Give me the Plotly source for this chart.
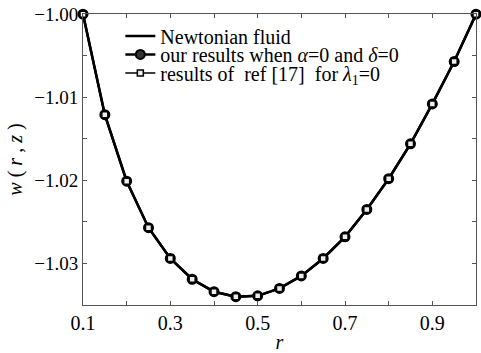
import plotly.graph_objects as go

r = [0.1, 0.15, 0.2, 0.25, 0.3, 0.35, 0.4, 0.45, 0.5, 0.55, 0.6, 0.65, 0.7, 0.75, 0.8, 0.85, 0.9, 0.95, 1.0]
w_newtonian = [-1.0000, -1.0121, -1.0201, -1.0257, -1.0294, -1.0319, -1.0334, -1.0340, -1.0339, -1.0330,
               -1.0315, -1.0294, -1.0268, -1.0235, -1.0198, -1.0156, -1.0108, -1.0057, -1.0000]
w_ours = list(w_newtonian)
w_ref17 = list(w_newtonian)

names = ["Newtonian fluid",
         "our results when <i>α</i>=0 and <i>δ</i>=0",
         "results of  ref [17]  for <i>λ</i><sub>1</sub>=0"]

font = "Times New Roman, Liberation Serif, DejaVu Serif, serif"

fig = go.Figure()
fig.add_trace(go.Scatter(x=r, y=w_newtonian, mode="lines", name=names[0], cliponaxis=False,
                         legend="legend",
                         line=dict(color="black", width=2.5)))
fig.add_trace(go.Scatter(x=r, y=w_ours, mode="lines+markers", name=names[1], cliponaxis=False,
                         legend="legend2",
                         line=dict(color="black", width=2.5),
                         marker=dict(symbol="circle", size=9, color="#333333",
                                     line=dict(color="black", width=2))))
fig.add_trace(go.Scatter(x=r, y=w_ref17, mode="lines+markers", name=names[2], cliponaxis=False,
                         legend="legend3",
                         line=dict(color="black", width=1.5),
                         marker=dict(symbol="square", size=6, color="#eeeeee",
                                     line=dict(color="black", width=1.5))))

leg_common = dict(x=0.095, xanchor="left", yanchor="middle",
                  bgcolor="rgba(0,0,0,0)", font=dict(size=20, family=font), itemwidth=30)

fig.update_layout(
    width=481, height=353,
    margin=dict(l=83, r=4, t=9, b=41),
    paper_bgcolor="white", plot_bgcolor="white",
    font=dict(family=font, size=16, color="black"),
    showlegend=True,
    legend=dict(y=0.924, **leg_common),
    legend2=dict(y=0.861, **leg_common),
    legend3=dict(y=0.797, **leg_common),
    xaxis=dict(range=[0.1, 1.0], tickvals=[0.1, 0.3, 0.5, 0.7, 0.9],
               ticktext=["0.1", "0.3", "0.5", "0.7", "0.9"],
               ticks="inside", ticklen=4, tickcolor="#555", showgrid=False, zeroline=False,
               showline=True, linecolor="#555", linewidth=1, mirror="ticks",
               minor=dict(tickvals=[0.2, 0.4, 0.6, 0.8], ticks="inside", ticklen=4, tickcolor="#555"),
               title=dict(text="<i>r</i>", standoff=1, font=dict(size=20, family=font)),
               tickfont=dict(size=20, family=font), ticklabeloverflow="allow"),
    yaxis=dict(range=[-1.035, -0.99998], tickvals=[-1.0, -1.01, -1.02, -1.03],
               ticktext=["−1.00", "−1.01", "−1.02", "−1.03"],
               ticks="inside", ticklen=4, tickcolor="#555", showgrid=False, zeroline=False,
               showline=True, linecolor="#555", linewidth=1, mirror="ticks",
               minor=dict(tickvals=[-1.005, -1.015, -1.025], ticks="inside", ticklen=4, tickcolor="#555"),
               title=dict(text="<i>w</i> ( <i>r</i> , <i>z</i> )", standoff=6, font=dict(size=20, family=font)),
               tickfont=dict(size=19, family=font), ticklabeloverflow="allow"),
)

fig.write_html("out.html")
